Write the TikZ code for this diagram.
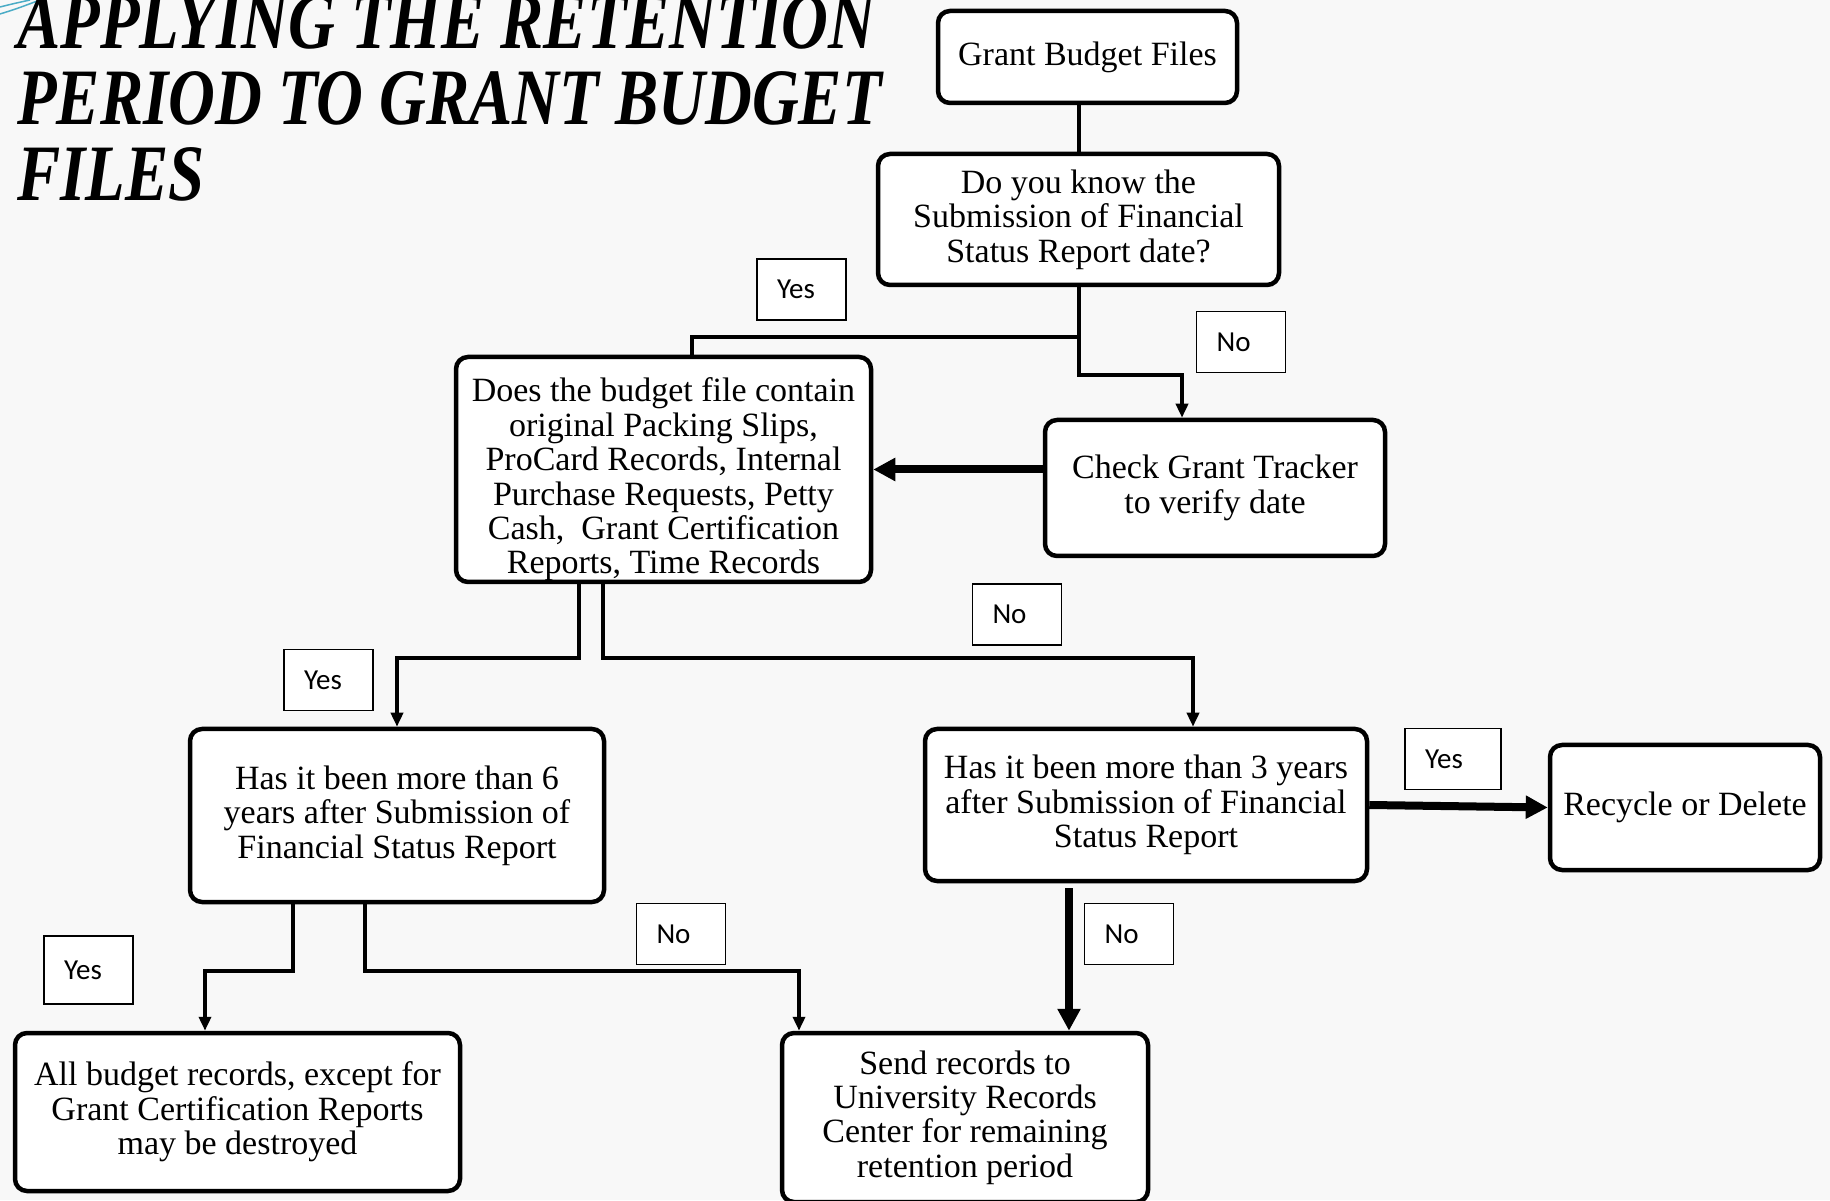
\documentclass[tikz,border=0pt]{standalone}
\usepackage{fontspec}
\setmainfont{Liberation Serif}
\newfontfamily\labelfont{Carlito}
\newfontfamily\titlefont[FakeStretch=0.81]{Liberation Serif}
\usetikzlibrary{arrows.meta}
\definecolor{page_bg}{HTML}{F8F8F8}
\definecolor{swoosh_blue}{HTML}{4BACC6}

\begin{document}
\begin{tikzpicture}[x=1pt, y=1pt,
    % stili per i riquadri e le frecce
    box/.style = {
        draw,
        line width=4.5pt,
        rounded corners=12pt,
        fill=white,
        align=center,
        inner sep=0pt,
        font=\fontsize{34}{34.4}\selectfont
    },
    boxtext/.style = {
        align=center,
        inner sep=0pt,
        font=\fontsize{34}{34.4}\selectfont
    },
    answer/.style = {
        draw,
        line width=1.5pt,
        fill=white,
        minimum height=61pt,
        text width=49pt,
        inner xsep=20pt,
        align=left,
        font=\labelfont\fontsize{29}{30}\selectfont
    },
    link/.style = {line width=4pt},
    arrow/.style = {line width=4pt, -{Triangle[length=14pt, width=12pt]}},
    bigarrow/.style = {line width=8pt, -{Triangle[length=22pt, width=22pt]}}
]

% 1. Sfondo e titolo
\useasboundingbox (0,0) rectangle (1830,1200);
\fill[page_bg] (0,0) rectangle (1830,1200);
\draw[swoosh_blue, line width=1.5pt] (0,1193) .. controls (12,1196) .. (30,1200);
\draw[swoosh_blue, line width=1.5pt] (0,1186) .. controls (16,1191) .. (40,1200);

\node[anchor=base west, align=left, inner sep=0pt,
      font=\titlefont\bfseries\itshape\fontsize{80}{76}\selectfont] (title) at (17,999)
    {APPLYING THE RETENTION\\PERIOD TO GRANT BUDGET\\FILES};

% 2. Riquadri
\node[box, minimum width=299pt, minimum height=92pt] (gbf) at (1087.5,1143) {Grant Budget Files};
\node[box, minimum width=401pt, minimum height=131pt] (q1) at (1078.5,980.5)
    {Do you know the\\Submission of Financial\\Status Report date?};
\node[box, minimum width=415pt, minimum height=225pt] (q2) at (663.5,730.5) {};
\node[boxtext] (q2text) at ([yshift=-10pt]q2.center)
    {Does the budget file contain\\original Packing Slips,\\ProCard Records, Internal\\Purchase Requests, Petty\\Cash,\ \ Grant Certification\\Reports, Time Records};
\node[box, minimum width=340pt, minimum height=136pt] (check) at (1215,712)
    {Check Grant Tracker\\to verify date};
\node[box, minimum width=414pt, minimum height=173pt] (q3) at (397,384.5)
    {Has it been more than 6\\years after Submission of\\Financial Status Report};
\node[box, minimum width=442pt, minimum height=152pt] (q4) at (1146,395)
    {Has it been more than 3 years\\after Submission of Financial\\Status Report};
\node[box, minimum width=270pt, minimum height=125pt] (recycle) at (1685,392.5) {Recycle or Delete};
\node[box, minimum width=445pt, minimum height=158pt] (allrec) at (237.5,88)
    {All budget records, except for\\Grant Certification Reports\\may be destroyed};
\node[box, minimum width=366pt, minimum height=169pt] (send) at (965,82.5)
    {Send records to\\University Records\\Center for remaining\\retention period};

% 3. Collegamenti
\draw[link] (q1.north) -- (q1.north |- gbf.south);
\draw[link] (q1.south) -- ++(0,-50) -| ([xshift=28.5pt]q2.north);
\draw[arrow] (q1.south) -- ++(0,-88) -| ([xshift=-33pt]check.north);
\draw[bigarrow] (check.west |- q2.east) -- (q2.east);
\draw[arrow] ([xshift=-84.5pt]q2.south) -- ++(0,-74) -| (q3.north);
\draw[arrow] ([xshift=-60.5pt]q2.south) -- ++(0,-74) -| ([xshift=47pt]q4.north);
\draw[bigarrow] (q4.east) -- (recycle.west);
\draw[arrow] ([xshift=-104pt]q3.south) -- ++(0,-67) -| ([xshift=-32.5pt]allrec.north);
\draw[arrow] ([xshift=-32pt]q3.south) -- ++(0,-67) -| ([xshift=-166pt]send.north);
\draw[bigarrow, shorten <=5pt] ([xshift=-77pt]q4.south) -- ([xshift=-77pt]q4.south |- send.north);

% 4. Etichette Yes / No
\node[answer] (yes1) at (801.5,910.5) {Yes};
\node[answer] (no1) at (1241,858) {No};
\node[answer] (no2) at (1017,585.5) {No};
\node[answer] (yes2) at (328.5,520) {Yes};
\node[answer, text width=56pt] (yes3) at (1453,441) {Yes};
\node[answer] (no3) at (681,266) {No};
\node[answer] (no4) at (1129,266) {No};
\node[answer, minimum height=68pt] (yes4) at (88.5,230) {Yes};

\end{tikzpicture}
\end{document}
